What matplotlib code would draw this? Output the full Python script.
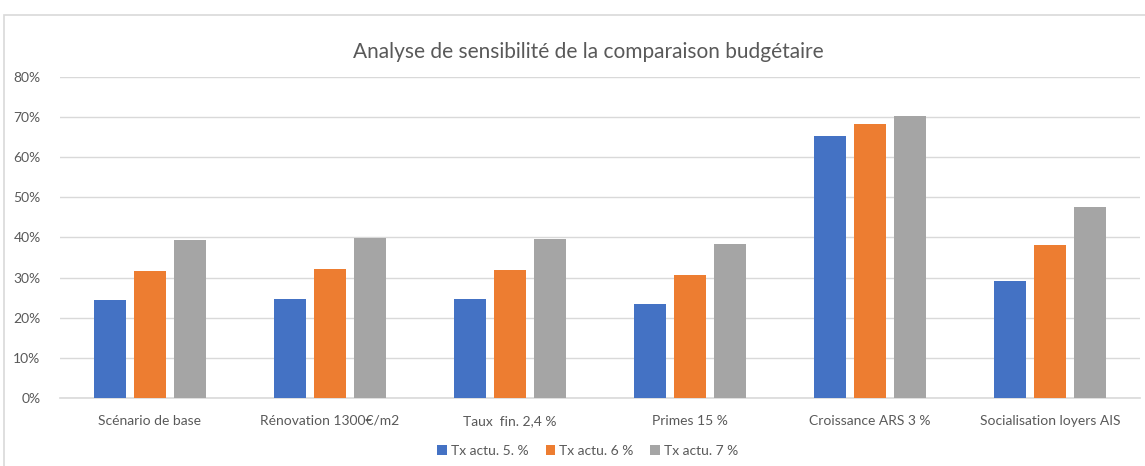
import matplotlib
matplotlib.use("Agg")
import matplotlib.pyplot as plt
import numpy as np
from matplotlib.patches import Rectangle

categories = ["Scénario de base", "Rénovation 1300€/m2", "Taux  fin. 2,4 %",
              "Primes 15 %", "Croissance ARS 3 %", "Socialisation loyers AIS"]
series_names = ["Tx actu. 5. %", "Tx actu. 6 %", "Tx actu. 7 %"]
tx5 = [24.4, 24.6, 24.6, 23.4, 65.3, 29.2]
tx6 = [31.7, 32.1, 31.9, 30.7, 68.4, 38.1]
tx7 = [39.5, 39.8, 39.6, 38.5, 70.3, 47.5]
yticks = [0, 10, 20, 30, 40, 50, 60, 70, 80]
colors = ["#4472C4", "#ED7D31", "#A5A5A5"]

plt.rcParams['font.family'] = ['Lato', 'DejaVu Sans']
fig = plt.figure(figsize=(11.45, 4.66), dpi=100)
W, H = 1145, 466
# outer chart frame
fig.patches.append(Rectangle((4 / W, -0.01), 1.2, (H - 15) / H + 0.01, transform=fig.transFigure,
                             fill=False, edgecolor="#d9d9d9", linewidth=1.2))
ax = fig.add_axes([60 / W, (H - 398) / H, 1080 / W, 321 / H])

x = np.arange(len(categories))
bw = 32 / 180
step = 40 / 180
for i, (vals, name) in enumerate(zip([tx5, tx6, tx7], series_names)):
    ax.bar(x + (i - 1) * step, vals, width=bw, color=colors[i], label=name, zorder=3)

ax.set_xlim(-0.5, len(categories) - 0.5)
ax.set_ylim(0, 80)
ax.set_yticks(yticks)
ax.set_yticklabels([f"{v}%" for v in yticks], fontsize=10, color="#595959")
ax.set_xticks(x)
ax.set_xticklabels(categories, fontsize=10, color="#595959")
ax.tick_params(axis="both", length=0)
ax.tick_params(axis="x", pad=12)
ax.tick_params(axis="y", pad=14)
ax.grid(axis="y", color="#d9d9d9", linewidth=1, zorder=0)
for s in ["top", "right", "left"]:
    ax.spines[s].set_visible(False)
ax.spines["bottom"].set_color("#d9d9d9")
ax.spines["bottom"].set_linewidth(1.2)

fig.text(588 / W, 1 - 52 / H, "Analyse de sensibilité de la comparaison budgétaire",
         ha="center", va="center", fontsize=15, color="#595959", fontweight="normal")

fig.legend(loc="center", bbox_to_anchor=(588 / W, 1 - 451 / H), ncol=3, frameon=False,
           fontsize=10, labelcolor="#595959", handlelength=0.7, handleheight=0.7,
           handletextpad=0.3, columnspacing=1.2)

fig.savefig("out.png", dpi=100)
